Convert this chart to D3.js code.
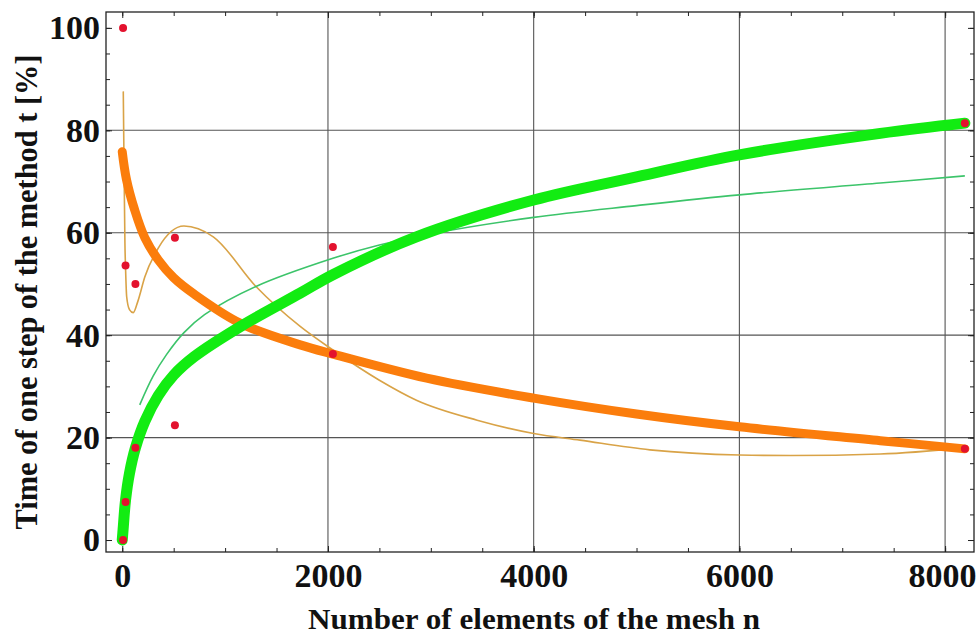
<!DOCTYPE html>
<html>
<head>
<meta charset="utf-8">
<script src="https://cdn.jsdelivr.net/npm/d3@7"></script>
<style>
  body { margin: 0; background: #fff; }
  svg { display: block; }
  text { font-family: 'Liberation Serif', 'Times New Roman', serif; font-weight: bold; fill: #111; }
</style>
</head>
<body>
<script>
// measured points (n, t)
var meshSizes = [8, 32, 128, 512, 2048, 8192];
var timeA = [100, 53.6, 50, 59, 57.2, 81.4];
var timeB = [0, 7.4, 18, 22.4, 36.3, 17.8];

// fitted curves: [n, t]
var fitOrangeBold = [[0, 75.8], [40, 70.5], [120, 64.5], [220, 59], [350, 54.7], [500, 51.2], [700, 48],
  [1150, 42.3], [1730, 38.1], [2048, 36.3], [2960, 31.6], [4000, 27.7], [5000, 24.6], [6000, 22.1],
  [7370, 19.4], [8192, 17.8]];
var fitGreenBold = [[0, 0], [8, 2], [32, 7.8], [70, 13], [128, 18], [220, 23.2], [350, 28.2], [500, 32.2],
  [700, 35.8], [1150, 41.7], [1730, 48.2], [2048, 51.8], [2860, 59.2], [4000, 66.4], [5000, 70.9],
  [6000, 75.2], [7370, 79.4], [8192, 81.4]];
var fitOrangeThin = [[10, 87.6], [18, 72], [26, 58], [33, 52.5], [43, 47.5], [70, 45], [107, 44.4],
  [150, 46.5], [220, 51.4], [350, 57], [600, 61.3], [885, 59.2], [1300, 49.5], [1730, 41.7],
  [2048, 37.1], [2500, 31.2], [2860, 27.3], [3450, 23.4], [4000, 20.8], [4450, 19.5], [5130, 17.6],
  [6000, 16.6], [6500, 16.5], [7370, 16.8], [8192, 18]];
var fitGreenThin = [[170, 26.4], [300, 32], [430, 36.2], [600, 40.5], [800, 44], [1300, 49.5], [2048, 55],
  [2500, 57.6], [3000, 59.8], [4000, 63], [5000, 65.3], [6000, 67.4], [7370, 69.7], [8192, 71.1]];

var xMajor = [0, 2000, 4000, 6000, 8000];
var yMajor = [0, 20, 40, 60, 80, 100];
var xGrid = [2000, 4000, 6000, 8000];
var yGrid = [20, 40, 60, 80];

(function() {
  var w = 978;
  var h = 634;
  var plotLeft = 106, plotRight = 974, plotTop = 12, plotBottom = 552;

  var svg = d3.select('body').append('svg')
    .attr('width', w)
    .attr('height', h);

  var xScale = d3.scaleLinear().domain([-158, 8281]).range([plotLeft, plotRight]);
  var yScale = d3.scaleLinear().domain([-2.34, 103.1]).range([plotBottom, plotTop]);

  svg.append('clipPath')
    .attr('id', 'plot-area')
    .append('rect')
    .attr('x', plotLeft)
    .attr('y', plotTop)
    .attr('width', plotRight - plotLeft)
    .attr('height', plotBottom - plotTop);

  // grid
  var grid = svg.append('g').attr('stroke', '#555').attr('stroke-width', 1.1);
  grid.selectAll('.gx').data(xGrid).enter().append('line')
    .attr('x1', d => xScale(d)).attr('x2', d => xScale(d))
    .attr('y1', plotTop).attr('y2', plotBottom);
  grid.selectAll('.gy').data(yGrid).enter().append('line')
    .attr('x1', plotLeft).attr('x2', plotRight)
    .attr('y1', d => yScale(d)).attr('y2', d => yScale(d));

  var smooth = d3.line()
    .x(d => xScale(d[0]))
    .y(d => yScale(d[1]))
    .curve(d3.curveCatmullRom.alpha(0.5));

  var monotone = d3.line()
    .x(d => xScale(d[0]))
    .y(d => yScale(d[1]))
    .curve(d3.curveMonotoneX);

  var curves = svg.append('g').attr('clip-path', 'url(#plot-area)').attr('fill', 'none');

  curves.append('path').datum(fitOrangeThin)
    .attr('d', monotone).attr('stroke', '#d9a347').attr('stroke-width', 1.6);
  curves.append('path').datum(fitGreenThin)
    .attr('d', smooth).attr('stroke', '#3cc46a').attr('stroke-width', 1.6);
  curves.append('path').datum(fitOrangeBold)
    .attr('d', smooth).attr('stroke', '#fb7d0c').attr('stroke-width', 9).attr('stroke-linecap', 'round');
  curves.append('path').datum(fitGreenBold)
    .attr('d', smooth).attr('stroke', '#12ec12').attr('stroke-width', 11).attr('stroke-linecap', 'round');

  // points
  var points = meshSizes.map((n, i) => [n, timeA[i]]).concat(meshSizes.map((n, i) => [n, timeB[i]]));
  svg.append('g').selectAll('circle').data(points).enter().append('circle')
    .attr('cx', d => xScale(d[0]))
    .attr('cy', d => yScale(d[1]))
    .attr('r', 4)
    .attr('fill', '#e3122e');

  // frame with ticks on all sides
  function frameAxis(axis, tx, ty, values, size, labels) {
    var g = svg.append('g')
      .attr('transform', `translate(${tx}, ${ty})`)
      .call(axis.tickValues(values).tickSize(size).tickSizeOuter(0)
        .tickFormat(labels ? d3.format('d') : ''));
    g.select('.domain').remove();
    g.selectAll('line').attr('stroke', '#222');
    g.selectAll('text').attr('font-family', null).attr('font-size', 34).attr('fill', '#111');
    if (!labels) g.selectAll('text').remove();
    return g;
  }

  var xMinor = d3.range(0, 8001, 500);
  var yMinor = d3.range(0, 101, 5);

  frameAxis(d3.axisBottom(xScale).tickPadding(11), 0, plotBottom, xMinor, -4, false);
  var xAxisG = frameAxis(d3.axisBottom(xScale).tickPadding(11), 0, plotBottom, xMajor, -6, true);
  // keep the last label inside the window
  xAxisG.selectAll('text').filter(d => d === 8000).attr('x', -3);
  frameAxis(d3.axisTop(xScale), 0, plotTop, xMinor, -4, false);
  frameAxis(d3.axisTop(xScale), 0, plotTop, xMajor, -6, false);
  frameAxis(d3.axisLeft(yScale).tickPadding(6), plotLeft, 0, yMinor, -4, false);
  frameAxis(d3.axisLeft(yScale).tickPadding(6), plotLeft, 0, yMajor, -6, true);
  frameAxis(d3.axisRight(yScale), plotRight, 0, yMinor, -4, false);
  frameAxis(d3.axisRight(yScale), plotRight, 0, yMajor, -6, false);

  svg.append('rect')
    .attr('x', plotLeft).attr('y', plotTop)
    .attr('width', plotRight - plotLeft).attr('height', plotBottom - plotTop)
    .attr('fill', 'none').attr('stroke', '#222').attr('stroke-width', 1.3);

  // titles
  svg.append('text')
    .attr('x', 534).attr('y', 629)
    .attr('text-anchor', 'middle')
    .attr('font-size', 30)
    .attr('textLength', 452)
    .attr('lengthAdjust', 'spacingAndGlyphs')
    .text('Number of elements of the mesh n');

  svg.append('text')
    .attr('transform', 'translate(37, 292) rotate(-90)')
    .attr('text-anchor', 'middle')
    .attr('font-size', 31)
    .attr('textLength', 475)
    .attr('lengthAdjust', 'spacingAndGlyphs')
    .text('Time of one step of the method t [%]');
})();
</script>
</body>
</html>
